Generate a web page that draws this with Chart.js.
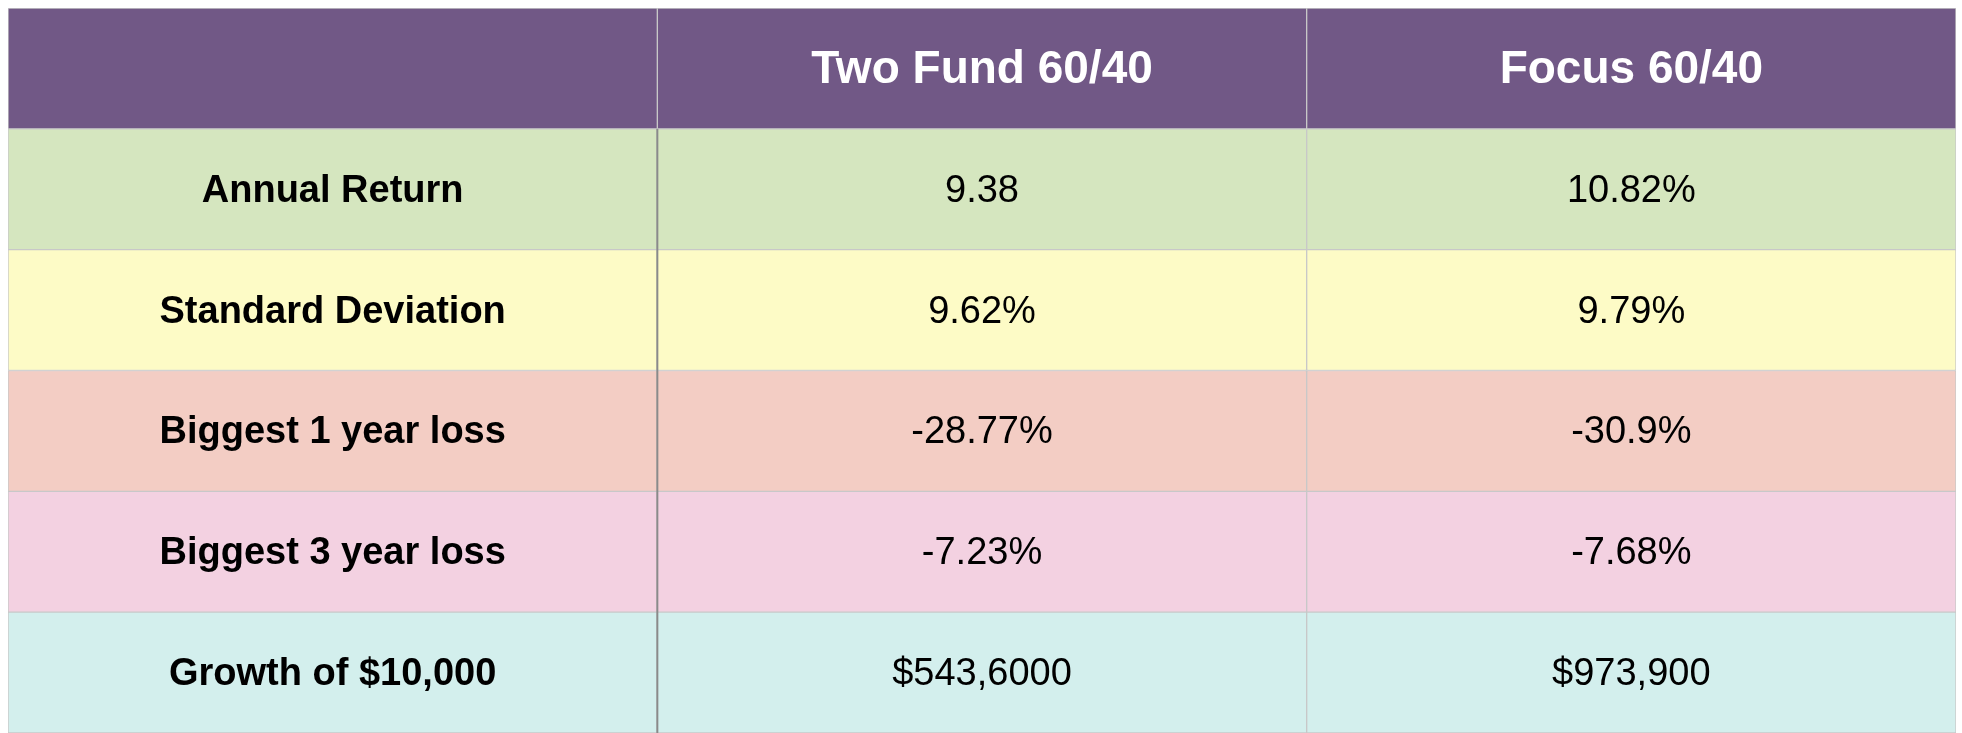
<!DOCTYPE html>
<html><head><meta charset="utf-8">
<script src="https://cdn.jsdelivr.net/npm/chart.js@4"></script>
<style>html,body{margin:0;padding:0;background:#fff}#w{width:1962px;height:733px}</style>
</head><body><div id="w"><canvas id="c"></canvas></div>
<script>
const columns = ["", "Two Fund 60/40", "Focus 60/40"];
const rowLabels = ["Annual Return", "Standard Deviation", "Biggest 1 year loss", "Biggest 3 year loss", "Growth of $10,000"];
const twoFund = ["9.38", "9.62%", "-28.77%", "-7.23%", "$543,6000"];
const focus = ["10.82%", "9.79%", "-30.9%", "-7.68%", "$973,900"];
const rowColors = ["#715886", "#d5e6bf", "#fdfbc6", "#f3cdc4", "#f3d1e1", "#d3efed"];

const cats = ["header"].concat(rowLabels);
const cells = [columns].concat(rowLabels.map((r,i)=>[r, twoFund[i], focus[i]]));
const datasets = [0,1,2].map(c=>({
  data: cats.map(()=>[c, c+1]),
  backgroundColor: rowColors,
  borderColor: "#c8c8c8",
  borderWidth: 1,
  borderSkipped: false,
  grouped: false,
  barPercentage: 1, categoryPercentage: 1
}));
const textPlugin = {
  id: "txt",
  afterDatasetsDraw(chart){
    const ctx = chart.ctx, x = chart.scales.x, y = chart.scales.y;
    ctx.save();
    ctx.strokeStyle = "#8a8a8a"; ctx.lineWidth = 2;
    const xd = x.getPixelForValue(1);
    ctx.beginPath(); ctx.moveTo(xd, (y.getPixelForValue(0)+y.getPixelForValue(1))/2); ctx.lineTo(xd, chart.chartArea.bottom); ctx.stroke();
    ctx.textAlign = "center"; ctx.textBaseline = "middle";
    cells.forEach((row, r)=>{
      const py = y.getPixelForValue(r);
      row.forEach((t, c)=>{
        const px = x.getPixelForValue(c+0.5);
        if (r===0){ ctx.fillStyle="#fff"; ctx.font="bold 46px 'Liberation Sans', Arial"; }
        else if (c===0){ ctx.fillStyle="#000"; ctx.font="bold 38px 'Liberation Sans', Arial"; }
        else { ctx.fillStyle="#000"; ctx.font="38px 'Liberation Sans', Arial"; }
        ctx.fillText(t, px, py+2);
      });
    });
    ctx.restore();
  }
};
new Chart(document.getElementById("c"), {
  type: "bar",
  data: { labels: cats, datasets },
  options: {
    indexAxis: "y", responsive: true, maintainAspectRatio: false, animation: false,
    layout: { padding: {left: 8, right: 6, top: 8, bottom: 0} },
    plugins: { legend: {display:false}, tooltip: {enabled:false} },
    scales: {
      x: { type: "linear", min: 0, max: 3, display: false },
      y: { display: false, grid: {display:false} }
    }
  },
  plugins: [textPlugin]
});
</script></body></html>
